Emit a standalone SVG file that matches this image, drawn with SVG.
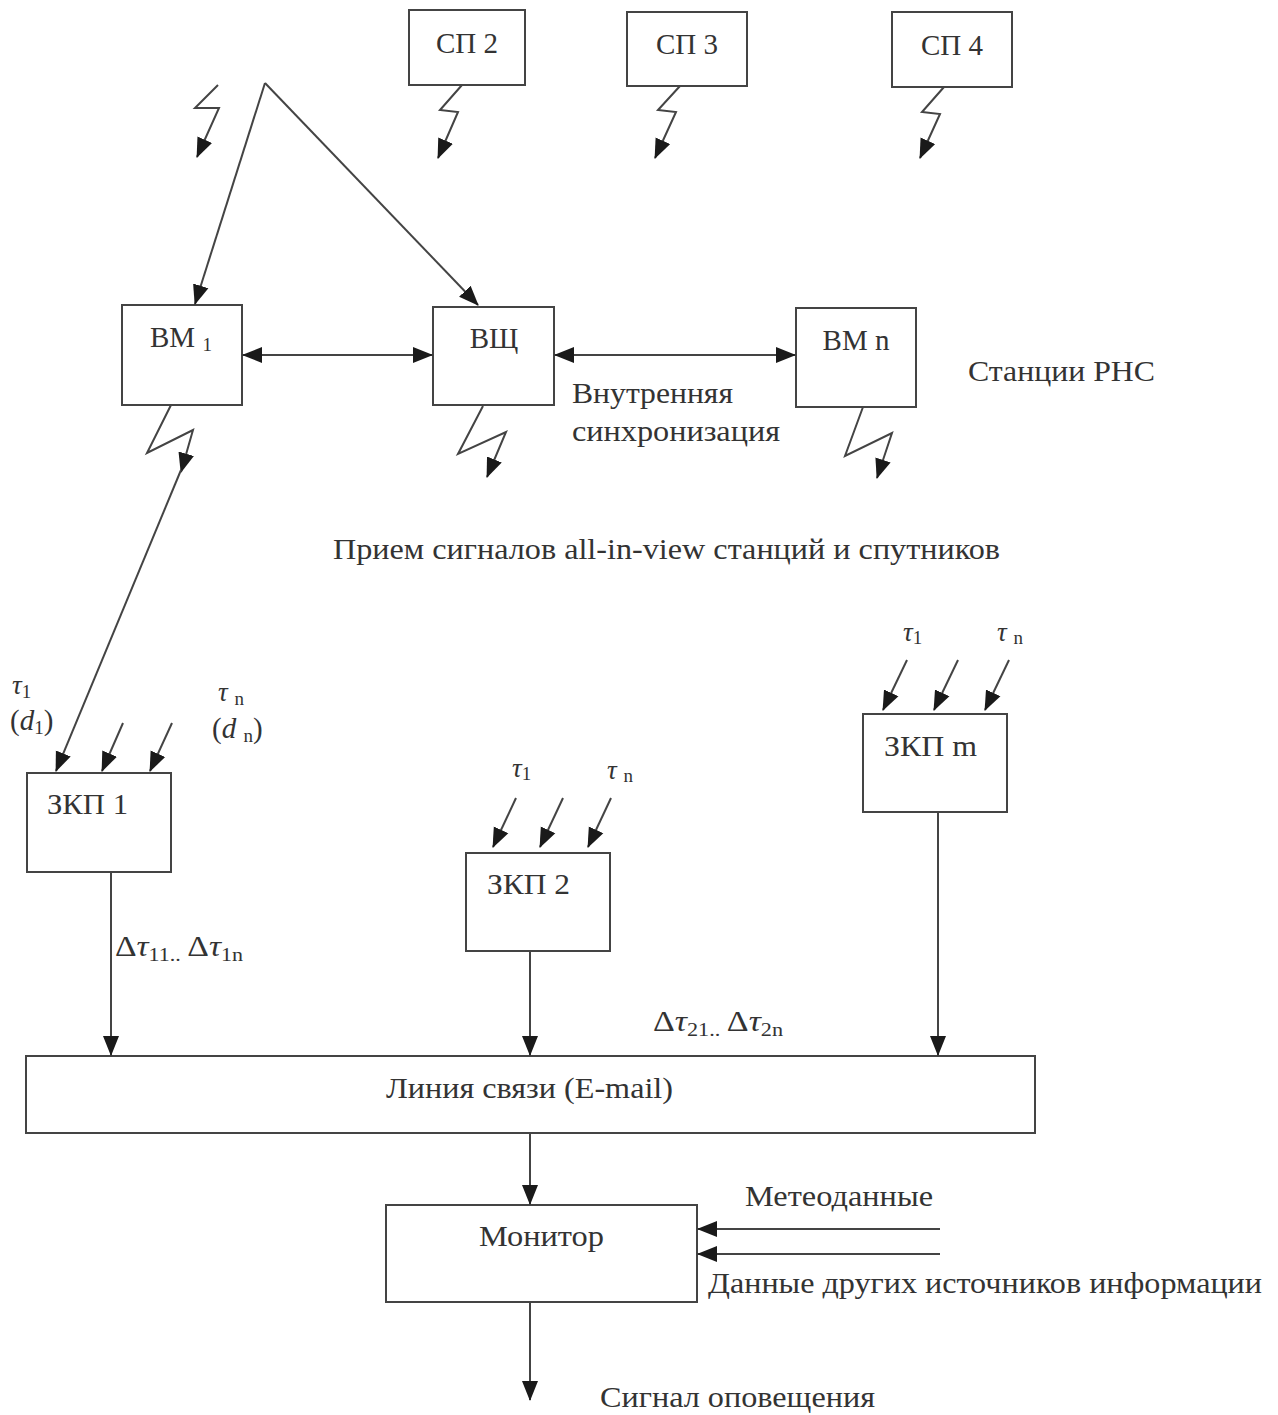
<svg xmlns="http://www.w3.org/2000/svg" width="1278" height="1415" viewBox="0 0 1278 1415">
<defs>
<marker id="ah" viewBox="0 0 20 16" refX="19" refY="8" markerWidth="20" markerHeight="17" markerUnits="userSpaceOnUse" orient="auto-start-reverse">
<path d="M0,0 L20,8 L0,16 Z" fill="#1a1a1a"/>
</marker>
</defs>
<style>
.box{fill:#fff;stroke:#444;stroke-width:2}
.ln{fill:none;stroke:#444;stroke-width:2}
.t{font-family:"Liberation Serif","Times New Roman",serif;font-size:29px;fill:#333}
.s{font-family:"Liberation Serif","Times New Roman",serif;font-size:19px;fill:#333}
.g{font-family:"Liberation Serif","Times New Roman",serif;font-size:27px;font-style:italic;fill:#333}
</style>
<rect width="1278" height="1415" fill="#fff"/>
<g id="sp2"><rect class="box" x="409" y="10" width="116" height="75"/><text class="t" x="467" y="53" text-anchor="middle">СП 2</text></g>
<g id="sp3"><rect class="box" x="627" y="12" width="120" height="74"/><text class="t" x="687" y="54" text-anchor="middle">СП 3</text></g>
<g id="sp4"><rect class="box" x="892" y="12" width="120" height="75"/><text class="t" x="952" y="55" text-anchor="middle">СП 4</text></g>
<g id="vm1"><rect class="box" x="122" y="305" width="120" height="100"/><text class="t" x="150" y="347">ВМ <tspan class="s" dy="4">1</tspan></text></g>
<g id="vsch"><rect class="box" x="433" y="307" width="121" height="98"/><text class="t" x="494" y="348" text-anchor="middle">ВЩ</text></g>
<g id="vmn"><rect class="box" x="796" y="308" width="120" height="99"/><text class="t" x="856" y="350" text-anchor="middle">ВМ n</text></g>
<g id="zkp1"><rect class="box" x="27" y="773" width="144" height="99"/><text class="t" x="47" y="814" textLength="81" lengthAdjust="spacingAndGlyphs">ЗКП 1</text></g>
<g id="zkp2"><rect class="box" x="466" y="853" width="144" height="98"/><text class="t" x="487" y="894" textLength="83" lengthAdjust="spacingAndGlyphs">ЗКП 2</text></g>
<g id="zkpm"><rect class="box" x="863" y="714" width="144" height="98"/><text class="t" x="884" y="756" textLength="93" lengthAdjust="spacingAndGlyphs">ЗКП m</text></g>
<g id="line"><rect class="box" x="26" y="1056" width="1009" height="77"/><text class="t" x="386" y="1098" textLength="287" lengthAdjust="spacingAndGlyphs">Линия связи (E-mail)</text></g>
<g id="monitor"><rect class="box" x="386" y="1205" width="311" height="97"/><text class="t" x="479" y="1246" textLength="125" lengthAdjust="spacingAndGlyphs">Монитор</text></g>
<g id="connectors">
<polyline class="ln" points="462,85 440,110 458,112 438,158" marker-end="url(#ah)"/>
<polyline class="ln" points="680,86 658,110 676,112 655,158" marker-end="url(#ah)"/>
<polyline class="ln" points="944,87 922,112 940,114 920,158" marker-end="url(#ah)"/>
<polyline class="ln" points="218,85 195,108 219,108 197,157" marker-end="url(#ah)"/>
<line class="ln" x1="265" y1="83" x2="195" y2="304" marker-end="url(#ah)"/>
<line class="ln" x1="265" y1="83" x2="478" y2="305" marker-end="url(#ah)"/>
<line class="ln" x1="243" y1="355" x2="432" y2="355" marker-start="url(#ah)" marker-end="url(#ah)"/>
<line class="ln" x1="555" y1="355" x2="795" y2="355" marker-start="url(#ah)" marker-end="url(#ah)"/>
<polyline class="ln" points="171,405 147,453 193,430 181,472" marker-end="url(#ah)"/>
<line class="ln" x1="181" y1="470" x2="56" y2="771" marker-end="url(#ah)"/>
<polyline class="ln" points="483,406 458,454 506,432 487,477" marker-end="url(#ah)"/>
<polyline class="ln" points="863,407 845,456 892,433 877,478" marker-end="url(#ah)"/>
<line class="ln" x1="123" y1="723" x2="102" y2="771" marker-end="url(#ah)"/>
<line class="ln" x1="172" y1="723" x2="150" y2="771" marker-end="url(#ah)"/>
<line class="ln" x1="516" y1="798" x2="493" y2="847" marker-end="url(#ah)"/>
<line class="ln" x1="563" y1="798" x2="540" y2="847" marker-end="url(#ah)"/>
<line class="ln" x1="611" y1="798" x2="588" y2="847" marker-end="url(#ah)"/>
<line class="ln" x1="907" y1="660" x2="883" y2="710" marker-end="url(#ah)"/>
<line class="ln" x1="958" y1="660" x2="934" y2="710" marker-end="url(#ah)"/>
<line class="ln" x1="1009" y1="660" x2="985" y2="710" marker-end="url(#ah)"/>
<line class="ln" x1="111" y1="872" x2="111" y2="1055" marker-end="url(#ah)"/>
<line class="ln" x1="530" y1="951" x2="530" y2="1055" marker-end="url(#ah)"/>
<line class="ln" x1="938" y1="812" x2="938" y2="1055" marker-end="url(#ah)"/>
<line class="ln" x1="530" y1="1133" x2="530" y2="1204" marker-end="url(#ah)"/>
<line class="ln" x1="940" y1="1229" x2="698" y2="1229" marker-end="url(#ah)"/>
<line class="ln" x1="940" y1="1254" x2="698" y2="1254" marker-end="url(#ah)"/>
<line class="ln" x1="530" y1="1302" x2="530" y2="1400" marker-end="url(#ah)"/>
</g>
<g id="labels">
<text class="t" x="572" y="403" textLength="161" lengthAdjust="spacingAndGlyphs">Внутренняя</text>
<text class="t" x="572" y="441" textLength="208" lengthAdjust="spacingAndGlyphs">синхронизация</text>
<text class="t" x="968" y="381" textLength="187" lengthAdjust="spacingAndGlyphs">Станции РНС</text>
<text class="t" x="333" y="559" textLength="667" lengthAdjust="spacingAndGlyphs">Прием сигналов all-in-view станций и спутников</text>
<text class="g" x="12" y="694">τ<tspan class="s" font-style="normal" dy="4">1</tspan></text>
<text class="t" x="10" y="730">(<tspan font-style="italic">d</tspan><tspan class="s" dy="4">1</tspan><tspan dy="-4">)</tspan></text>
<text class="g" x="218" y="701">τ <tspan class="s" font-style="normal" dy="4">n</tspan></text>
<text class="t" x="212" y="738">(<tspan font-style="italic">d</tspan> <tspan class="s" dy="4">n</tspan><tspan dy="-4">)</tspan></text>
<text class="g" font-size="21" x="512" y="777">τ<tspan class="s" font-size="14" font-style="normal" dy="3">1</tspan></text>
<text class="g" font-size="21" x="607" y="779">τ <tspan class="s" font-size="14" font-style="normal" dy="3">n</tspan></text>
<text class="g" font-size="21" x="903" y="641">τ<tspan class="s" font-size="14" font-style="normal" dy="3">1</tspan></text>
<text class="g" font-size="21" x="997" y="641">τ <tspan class="s" font-size="14" font-style="normal" dy="3">n</tspan></text>
<text class="t" x="115" y="956" textLength="128" lengthAdjust="spacingAndGlyphs">Δ<tspan font-style="italic">τ</tspan><tspan class="s" dy="5">11..</tspan><tspan dy="-5"> Δ</tspan><tspan font-style="italic">τ</tspan><tspan class="s" dy="5">1n</tspan></text>
<text class="t" x="653" y="1031" textLength="130" lengthAdjust="spacingAndGlyphs">Δ<tspan font-style="italic">τ</tspan><tspan class="s" dy="5">21..</tspan><tspan dy="-5"> Δ</tspan><tspan font-style="italic">τ</tspan><tspan class="s" dy="5">2n</tspan></text>
<text class="t" x="745" y="1206" textLength="188" lengthAdjust="spacingAndGlyphs">Метеоданные</text>
<text class="t" x="708" y="1293" textLength="554" lengthAdjust="spacingAndGlyphs">Данные других источников информации</text>
<text class="t" x="600" y="1407" textLength="275" lengthAdjust="spacingAndGlyphs">Сигнал оповещения</text>
</g>
</svg>
